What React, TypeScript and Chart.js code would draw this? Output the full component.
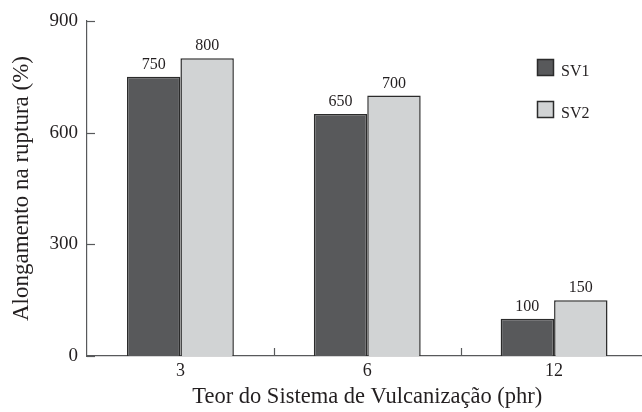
import { useEffect, useRef } from 'react';
import { Chart, registerables } from 'chart.js';

Chart.register(...registerables);

const categories = ['3', '6', '12'];
const sv1Values = [750, 650, 100];
const sv2Values = [800, 700, 150];
const seriesNames = ['SV1', 'SV2'];
const seriesColors = ['#58595b', '#d1d3d4'];
const yMin = 0;
const yMax = 900;
const yStep = 300;
const xTitle = 'Teor do Sistema de Vulcanização (phr)';
const yTitle = 'Alongamento na ruptura (%)';

const FONT = "'Liberation Serif', 'Times New Roman', serif";
const TEXT = '#231f20';
const AXIS = '#58595b';

const decorPlugin = {
  id: 'decor',
  afterDatasetsDraw(chart: any) {
    const { ctx, chartArea, scales } = chart;
    const x = scales.x;
    const y = scales.y;
    ctx.save();
    // inside tick marks on y axis
    ctx.strokeStyle = AXIS;
    ctx.lineWidth = 1.2;
    y.ticks.forEach((t: any) => {
      const py = Math.round(y.getPixelForValue(t.value)) + 0.5;
      ctx.beginPath();
      ctx.moveTo(chartArea.left, py);
      ctx.lineTo(chartArea.left + 8, py);
      ctx.stroke();
    });
    // inside tick marks on x axis between categories
    for (let i = 0; i < categories.length - 1; i++) {
      const px = Math.round((x.getPixelForValue(i) + x.getPixelForValue(i + 1)) / 2) + 0.5;
      ctx.beginPath();
      ctx.moveTo(px, chartArea.bottom);
      ctx.lineTo(px, chartArea.bottom - 8);
      ctx.stroke();
    }
    // value labels
    ctx.fillStyle = TEXT;
    ctx.font = `16px ${FONT}`;
    ctx.textAlign = 'center';
    ctx.textBaseline = 'bottom';
    chart.data.datasets.forEach((ds: any, di: number) => {
      const meta = chart.getDatasetMeta(di);
      meta.data.forEach((bar: any, i: number) => {
        ctx.fillText(String(ds.data[i]), bar.x, bar.y - 4);
      });
    });
    // legend
    const lx = 537;
    const ly = 59;
    const gap = 42;
    const box = 17;
    ctx.textAlign = 'left';
    ctx.textBaseline = 'alphabetic';
    ctx.font = `16px ${FONT}`;
    chart.data.datasets.forEach((ds: any, di: number) => {
      const by = ly + di * gap;
      ctx.fillStyle = ds.backgroundColor;
      ctx.fillRect(lx, by, box, box);
      ctx.strokeStyle = '#2b2b2b';
      ctx.lineWidth = 1.5;
      ctx.strokeRect(lx + 0.5, by + 0.5, box - 1, box - 1);
      ctx.fillStyle = TEXT;
      ctx.fillText(ds.label, lx + box + 7, by + box);
    });
    ctx.restore();
  },
};

export default function App() {
  const ref = useRef<HTMLCanvasElement | null>(null);

  useEffect(() => {
    if (!ref.current) return;
    const chart = new Chart(ref.current, {
      type: 'bar',
      data: {
        labels: categories,
        datasets: [
          {
            label: seriesNames[0],
            data: sv1Values,
            backgroundColor: seriesColors[0],
            borderColor: '#2b2b2b',
            borderWidth: 1.5,
            categoryPercentage: 0.572,
            barPercentage: 1.0,
          },
          {
            label: seriesNames[1],
            data: sv2Values,
            backgroundColor: seriesColors[1],
            borderColor: '#2b2b2b',
            borderWidth: 1.5,
            categoryPercentage: 0.572,
            barPercentage: 1.0,
          },
        ],
      },
      options: {
        responsive: false,
        animation: false,
        events: [],
        layout: { padding: { top: 21, left: 0, right: 2.5, bottom: 0 } },
        plugins: {
          legend: { display: false },
          tooltip: { enabled: false },
        },
        scales: {
          x: {
            grid: { display: false, drawTicks: false },
            border: { display: true, color: AXIS, width: 1.2 },
            ticks: { color: TEXT, font: { family: FONT, size: 18 }, padding: 4 },
            title: {
              display: true,
              text: xTitle,
              color: TEXT,
              font: { family: FONT, size: 22.5 },
              padding: { top: 0, bottom: 1 },
            },
            afterFit(scale: any) {
              scale.height = 56;
            },
          },
          y: {
            min: yMin,
            max: yMax,
            grid: { display: false, drawTicks: false },
            border: { display: true, color: AXIS, width: 1.2 },
            ticks: {
              stepSize: yStep,
              color: TEXT,
              font: { family: FONT, size: 19 },
              padding: 9,
            },
            title: {
              display: true,
              text: yTitle,
              color: TEXT,
              font: { family: FONT, size: 23 },
              padding: { top: 8, bottom: 0 },
            },
            afterFit(scale: any) {
              scale.width = 87;
            },
          },
        },
      },
      plugins: [decorPlugin],
    });
    return () => chart.destroy();
  }, []);

  return (
    <div style={{ position: 'fixed', left: 0, top: 0, width: 650, height: 412, background: '#fff' }}>
      <canvas ref={ref} width={650} height={412} style={{ display: 'block' }} />
    </div>
  );
}
